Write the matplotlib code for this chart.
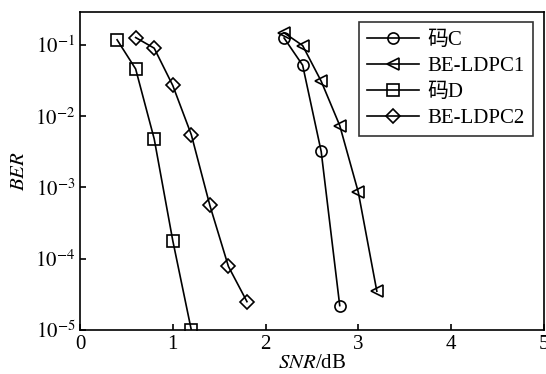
import matplotlib
matplotlib.use('Agg')
import matplotlib.pyplot as plt
from matplotlib.ticker import FixedLocator, NullLocator

plt.rcParams['font.family'] = ['Liberation Serif', 'Noto Sans CJK SC']
plt.rcParams['mathtext.fontset'] = 'stix'

# data
snr_c = [2.2, 2.4, 2.6, 2.8]
ber_c = [0.125, 0.052, 0.0032, 2.2e-5]

snr_be1 = [2.2, 2.4, 2.6, 2.8, 3.0, 3.2]
ber_be1 = [0.148, 0.098, 0.031, 0.0074, 8.6e-4, 3.5e-5]

snr_d = [0.4, 0.6, 0.8, 1.0, 1.2]
ber_d = [0.118, 0.046, 0.0048, 1.8e-4, 1.0e-5]

snr_be2 = [0.6, 0.8, 1.0, 1.2, 1.4, 1.6, 1.8]
ber_be2 = [0.127, 0.09, 0.027, 0.0055, 5.6e-4, 7.8e-5, 2.5e-5]

labels = ['码C', 'BE-LDPC1', '码D', 'BE-LDPC2']
x_ticks = [0, 1, 2, 3, 4, 5]
y_ticks = [1e-5, 1e-4, 1e-3, 1e-2, 1e-1]

fig = plt.figure(figsize=(5.46, 3.74), dpi=100)
ax = fig.add_axes([0.1465, 0.1176, 0.8495, 0.8504])

style = dict(color='black', lw=1.2, markerfacecolor='none', markeredgewidth=1.2)
ax.plot(snr_c, ber_c, marker='o', ms=8, label=labels[0], **style)
ax.plot(snr_be1, ber_be1, marker='<', ms=9, label=labels[1], **style)
ax.plot(snr_d, ber_d, marker='s', ms=8, label=labels[2], **style)
ax.plot(snr_be2, ber_be2, marker='D', ms=7, label=labels[3], **style)

ax.set_yscale('log')
ax.set_xlim(0, 5)
ax.set_ylim(1e-5, 0.29)
ax.xaxis.set_major_locator(FixedLocator(x_ticks))
ax.yaxis.set_major_locator(FixedLocator(y_ticks))
ax.yaxis.set_minor_locator(NullLocator())
ax.set_yticklabels([r'$10^{-%d}$' % k for k in [5, 4, 3, 2, 1]])
ax.tick_params(direction='in', labelsize=15, length=4, width=1.2)
for s in ax.spines.values():
    s.set_linewidth(1.2)

ax.set_xlabel(r'$\mathit{SNR}$/dB', fontsize=15, labelpad=0)
ax.set_ylabel(r'$\mathit{BER}$', fontsize=15, labelpad=4)

leg = ax.legend(loc='upper right', fontsize=15, frameon=True, fancybox=False,
                edgecolor='black', handlelength=2.5, borderaxespad=0.5,
                labelspacing=0.3, handletextpad=0.4, borderpad=0.4)
leg.get_frame().set_linewidth(1.2)

fig.savefig('out.png', dpi=100)
